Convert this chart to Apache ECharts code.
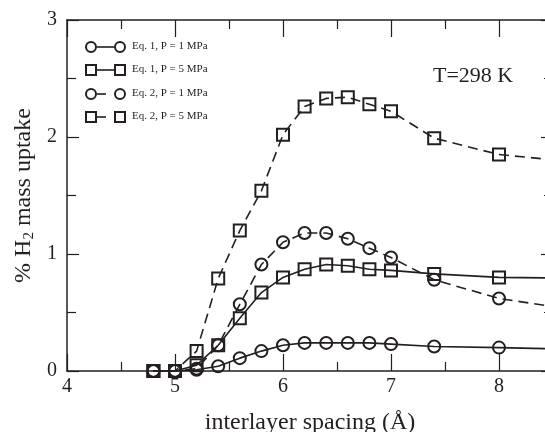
<!DOCTYPE html>
<html>
<head>
<meta charset="utf-8">
<script src="https://cdn.jsdelivr.net/npm/echarts@6/dist/echarts.min.js"></script>
<style>
    html, body {margin: 0; padding: 0; background: #fff;}
    #chart {width: 545px; height: 432px;}
</style>
</head>
<body>
<div id="chart"></div>
<script>
// interlayer spacing (Angstrom)
var spacing = [4.8, 5.0, 5.2, 5.4, 5.6, 5.8, 6.0, 6.2, 6.4, 6.6, 6.8, 7.0, 7.4, 8.0, 9.0];
// % H2 mass uptake
var eq1P1 = [0, 0, 0.01, 0.04, 0.11, 0.17, 0.22, 0.24, 0.24, 0.24, 0.24, 0.23, 0.21, 0.20, 0.18];
var eq1P5 = [0, 0, 0.05, 0.22, 0.45, 0.67, 0.80, 0.87, 0.91, 0.90, 0.87, 0.86, 0.83, 0.80, 0.79];
var eq2P1 = [0, 0, 0.02, 0.22, 0.57, 0.91, 1.10, 1.18, 1.18, 1.13, 1.05, 0.97, 0.78, 0.62, 0.48];
var eq2P5 = [0, 0, 0.17, 0.79, 1.20, 1.54, 2.02, 2.26, 2.33, 2.34, 2.28, 2.22, 1.99, 1.85, 1.76];
var legendNames = ['Eq. 1, P = 1 MPa', 'Eq. 1, P = 5 MPa', 'Eq. 2, P = 1 MPa', 'Eq. 2, P = 5 MPa'];
var xTicks = ['4', '5', '6', '7', '8'];
var yTicks = ['0', '1', '2', '3'];

var ink = '#231f20';
var font = 'Liberation Serif, Times New Roman, serif';

function pairs(ys) {
    var out = [];
    for (var i = 0; i < spacing.length; i++) {
        out.push([spacing[i], ys[i]]);
    }
    return out;
}

function makeSeries(name, ys, symbol, dashed) {
    return {
        name: name,
        type: 'line',
        xAxisIndex: 0,
        yAxisIndex: 0,
        data: pairs(ys),
        symbol: symbol,
        symbolSize: 12,
        clip: true,
        z: 3,
        itemStyle: {color: 'rgba(0,0,0,0)', borderColor: ink, borderWidth: 2},
        lineStyle: {color: ink, width: 1.6, type: dashed ? [10, 6] : 'solid'},
        emphasis: {disabled: true}
    };
}

function xAxisBase() {
    return {
        type: 'value',
        min: 4,
        max: 8.5,
        interval: 1,
        axisLine: {onZero: false, lineStyle: {color: ink, width: 1.5}},
        axisTick: {inside: true, length: 17, lineStyle: {color: ink, width: 1.2}},
        minorTick: {show: true, splitNumber: 2, length: 9, lineStyle: {color: ink, width: 1.2}},
        splitLine: {show: false}
    };
}
function yAxisBase() {
    return {
        type: 'value',
        min: 0,
        max: 3,
        interval: 1,
        axisLine: {onZero: false, lineStyle: {color: ink, width: 1.5}},
        axisTick: {inside: true, length: 12, lineStyle: {color: ink, width: 1.2}},
        minorTick: {show: true, splitNumber: 2, length: 9, lineStyle: {color: ink, width: 1.2}},
        splitLine: {show: false}
    };
}

// hand-drawn legend, symbol - line - symbol like the original plot
var legendGraphics = [];
var rowY = [47, 70, 94, 117];
for (var i = 0; i < legendNames.length; i++) {
    var isRect = (i % 2 === 1);
    var dashed = (i >= 2);
    var y = rowY[i];
    legendGraphics.push({
        type: 'line',
        shape: {x1: 97, y1: y, x2: dashed ? 106 : 114, y2: y},
        style: {stroke: ink, lineWidth: 1.6}
    });
    var xs = [91, 120];
    for (var k = 0; k < xs.length; k++) {
        if (isRect) {
            legendGraphics.push({
                type: 'rect',
                shape: {x: xs[k] - 5, y: y - 5, width: 10, height: 10},
                style: {fill: 'none', stroke: ink, lineWidth: 2}
            });
        } else {
            legendGraphics.push({
                type: 'circle',
                shape: {cx: xs[k], cy: y, r: 5},
                style: {fill: 'none', stroke: ink, lineWidth: 2}
            });
        }
    }
    legendGraphics.push({
        type: 'text',
        left: 132,
        top: y - 6,
        style: {text: legendNames[i], font: '11px ' + font, fill: ink}
    });
}
legendGraphics.push({
    type: 'text',
    left: 433,
    top: 65,
    style: {text: 'T=298 K', font: '22px ' + font, fill: ink}
});

var xBottom = xAxisBase();
xBottom.position = 'bottom';
xBottom.name = 'interlayer spacing (Å)';
xBottom.nameLocation = 'middle';
xBottom.nameGap = 40;
xBottom.nameTextStyle = {fontFamily: font, fontSize: 24, color: ink};
xBottom.axisLabel = {
    margin: 6,
    fontFamily: font,
    fontSize: 20,
    color: ink,
    formatter: function(v) {
        return xTicks.indexOf(String(v)) >= 0 ? String(v) : '';
    }
};
var xTop = xAxisBase();
xTop.position = 'top';
xTop.axisLabel = {show: false};

var yLeft = yAxisBase();
yLeft.position = 'left';
yLeft.name = '% H{sub|2} mass uptake';
yLeft.nameLocation = 'middle';
yLeft.nameGap = 29;
yLeft.nameTextStyle = {
    fontFamily: font,
    fontSize: 24,
    color: ink,
    rich: {sub: {fontFamily: font, fontSize: 15, color: ink, verticalAlign: 'bottom', padding: [10, 0, 0, 0]}}
};
yLeft.axisLabel = {
    margin: 10,
    fontFamily: font,
    fontSize: 20,
    color: ink,
    formatter: function(v) {
        return yTicks.indexOf(String(v)) >= 0 ? String(v) : '';
    }
};
var yRight = yAxisBase();
yRight.position = 'right';
yRight.axisLabel = {show: false};

var chart = echarts.init(document.getElementById('chart'), null, {renderer: 'canvas'});
chart.setOption({
    backgroundColor: '#fff',
    animation: false,
    grid: {left: 67, top: 20, right: -8, bottom: 61, outerBoundsMode: 'none', containLabel: false},
    xAxis: [xBottom, xTop],
    yAxis: [yLeft, yRight],
    series: [
        makeSeries(legendNames[0], eq1P1, 'circle', false),
        makeSeries(legendNames[1], eq1P5, 'rect', false),
        makeSeries(legendNames[2], eq2P1, 'circle', true),
        makeSeries(legendNames[3], eq2P5, 'rect', true)
    ],
    graphic: legendGraphics
});
</script>
</body>
</html>
